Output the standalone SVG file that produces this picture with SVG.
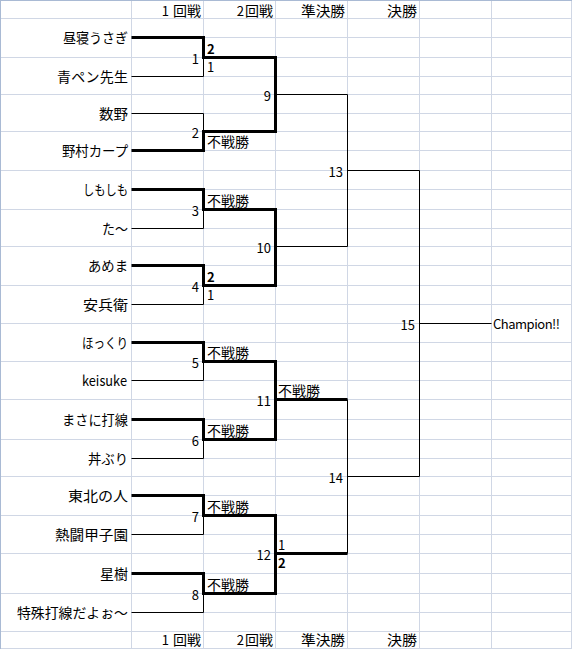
<svg xmlns="http://www.w3.org/2000/svg" width="572" height="649" viewBox="0 0 572 649">
<style>
.grid{stroke:#D0D7E5;stroke-width:1;fill:none}
.edge{stroke:#A9BAD4;stroke-width:1;fill:none}
.thin{stroke:#000;stroke-width:1;fill:none}
.bold{stroke:#000;stroke-width:3;fill:none;stroke-linejoin:miter}
text{font-family:"Noto Sans CJK JP","Noto Sans",sans-serif;font-size:14px;fill:#000}
.n{font-size:13px}
.r{text-anchor:end}
.b{font-weight:bold}
</style>
<rect x="0" y="0" width="572" height="649" fill="#fff"/>
<g id="grid">
<path class="grid" d="M0 18.5H572M0 57.5H572M0 94.5H572M0 131.5H572M0 170.5H572M0 209.5H572M0 246.5H572M0 285.5H572M0 323.5H491.5M0 361.5H572M0 399.5H572M0 439.5H572M0 476.5H572M0 515.5H572M0 553.5H572M0 593.5H572M0 631.5H572M131.5 37.5H572M131.5 76.5H572M131.5 113.5H572M131.5 150.5H572M131.5 189.5H572M131.5 228.5H572M131.5 265.5H572M131.5 304.5H572M131.5 342.5H572M131.5 380.5H572M131.5 419.5H572M131.5 458.5H572M131.5 495.5H572M131.5 534.5H572M131.5 573.5H572M131.5 612.5H572M131.5 0V649M203.5 0V649M275.5 0V649M347.5 0V649M419.5 0V649M491.5 0V649M571.5 0V649M0 648.5H572"/>
<path class="edge" d="M0.5 0V649M0 0.5H572"/>
</g>
<g id="headers">
<text class="r" x="201" y="15.5"><tspan class="n">1</tspan><tspan dx="4">回戦</tspan></text>
<text class="r" x="273" y="15.5"><tspan class="n">2</tspan><tspan dx="1">回戦</tspan></text>
<text class="r" x="345" y="15.5" textLength="44" lengthAdjust="spacingAndGlyphs">準決勝</text>
<text class="r" x="417" y="15.5" textLength="30" lengthAdjust="spacingAndGlyphs">決勝</text>
<text class="r" x="201" y="645"><tspan class="n">1</tspan><tspan dx="4">回戦</tspan></text>
<text class="r" x="273" y="645"><tspan class="n">2</tspan><tspan dx="1">回戦</tspan></text>
<text class="r" x="345" y="645" textLength="44" lengthAdjust="spacingAndGlyphs">準決勝</text>
<text class="r" x="417" y="645" textLength="30" lengthAdjust="spacingAndGlyphs">決勝</text>
</g>
<g id="connectors">
<path class="thin" d="M131.5 76.5H203.5V57.5M131.5 113.5H203.5V131.5M275.5 94.5H347.5M131.5 228.5H203.5V209.5M131.5 304.5H203.5V285.5M275.5 246.5H347.5M131.5 380.5H203.5V361.5M131.5 458.5H203.5V439.5M131.5 534.5H203.5V515.5M131.5 612.5H203.5V593.5M347.5 94.5V246.5M347.5 170.5H419.5M347.5 399.5V553.5M347.5 476.5H419.5M419.5 170.5V476.5M419.5 323.5H491.5"/>
<path class="bold" d="M131.5 37.5H203.5V57.5H275.5V131.5H203.5V150.5H131.5"/>
<path class="bold" d="M131.5 189.5H203.5V209.5H275.5V285.5H203.5V265.5H131.5"/>
<path class="bold" d="M131.5 342.5H203.5V361.5H275.5V439.5H203.5V419.5H131.5M275.5 399.5H347.5"/>
<path class="bold" d="M131.5 495.5H203.5V515.5H275.5V593.5H203.5V573.5H131.5M275.5 553.5H347.5"/>
</g>
<g id="players">
<g id="p1"><text class="r" x="128" y="43" textLength="65" lengthAdjust="spacingAndGlyphs">昼寝うさぎ</text></g>
<g id="p2"><text class="r" x="128" y="82" textLength="71" lengthAdjust="spacing">青ペン先生</text></g>
<g id="p3"><text class="r" x="128" y="119" textLength="29" lengthAdjust="spacingAndGlyphs">数野</text></g>
<g id="p4"><text class="r" x="128" y="156" textLength="66" lengthAdjust="spacingAndGlyphs">野村カープ</text></g>
<g id="p5"><text class="r" x="128" y="195" textLength="45" lengthAdjust="spacingAndGlyphs">しもしも</text></g>
<g id="p6"><text class="r" x="128" y="234" textLength="26" lengthAdjust="spacingAndGlyphs">た～</text></g>
<g id="p7"><text class="r" x="128" y="271" textLength="40" lengthAdjust="spacingAndGlyphs">あめま</text></g>
<g id="p8"><text class="r" x="128" y="310" textLength="45" lengthAdjust="spacingAndGlyphs">安兵衛</text></g>
<g id="p9"><text class="r" x="128" y="348" textLength="46" lengthAdjust="spacingAndGlyphs">ほっくり</text></g>
<g id="p10"><text class="r" x="127" y="386" textLength="45" lengthAdjust="spacingAndGlyphs">keisuke</text></g>
<g id="p11"><text class="r" x="128" y="425" textLength="66" lengthAdjust="spacingAndGlyphs">まさに打線</text></g>
<g id="p12"><text class="r" x="128" y="464" textLength="40" lengthAdjust="spacingAndGlyphs">丼ぶり</text></g>
<g id="p13"><text class="r" x="128" y="501" textLength="60" lengthAdjust="spacingAndGlyphs">東北の人</text></g>
<g id="p14"><text class="r" x="128" y="540" textLength="73" lengthAdjust="spacingAndGlyphs">熱闘甲子園</text></g>
<g id="p15"><text class="r" x="128" y="579" textLength="28" lengthAdjust="spacingAndGlyphs">星樹</text></g>
<g id="p16"><text class="r" x="128" y="618" textLength="111" lengthAdjust="spacingAndGlyphs">特殊打線だよぉ～</text></g>
</g>
<g id="matches">
<g id="m1"><text class="r n" x="199" y="63.5">1</text><text class="b n" x="207" y="53.5">2</text><text class="n" x="207" y="72">1</text></g>
<g id="m2"><text class="r n" x="199" y="137.5">2</text><text x="207" y="146.5">不戦勝</text></g>
<g id="m3"><text class="r n" x="199" y="215.5">3</text><text x="207" y="206">不戦勝</text></g>
<g id="m4"><text class="r n" x="199" y="291.5">4</text><text class="b n" x="207" y="282">2</text><text class="n" x="207" y="300">1</text></g>
<g id="m5"><text class="r n" x="199" y="367.5">5</text><text x="207" y="358">不戦勝</text></g>
<g id="m6"><text class="r n" x="199" y="445.5">6</text><text x="207" y="436">不戦勝</text></g>
<g id="m7"><text class="r n" x="199" y="521.5">7</text><text x="207" y="512">不戦勝</text></g>
<g id="m8"><text class="r n" x="199" y="599.5">8</text><text x="207" y="590">不戦勝</text></g>
<g id="m9"><text class="r n" x="271" y="100.5">9</text></g>
<g id="m10"><text class="r n" x="271" y="252.5">10</text></g>
<g id="m11"><text class="r n" x="271" y="405.5">11</text><text x="278" y="396">不戦勝</text></g>
<g id="m12"><text class="r n" x="271" y="560">12</text><text class="n" x="278" y="549.5">1</text><text class="b n" x="278" y="568">2</text></g>
<g id="m13"><text class="r n" x="343" y="176.5">13</text></g>
<g id="m14"><text class="r n" x="343" y="482.5">14</text></g>
<g id="m15"><text class="r n" x="415" y="329.5">15</text></g>
<g id="champion"><text class="n" x="493" y="329" textLength="67" lengthAdjust="spacing">Champion!!</text></g>
</g>
</svg>
